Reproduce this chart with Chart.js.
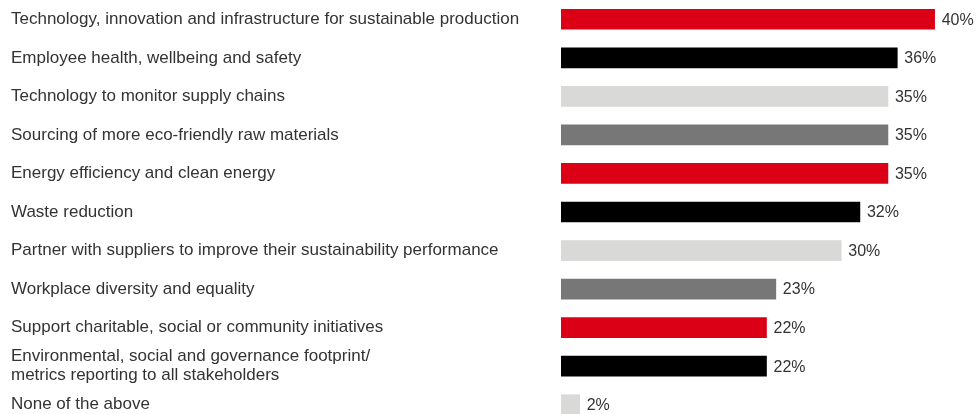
<!DOCTYPE html>
<html>
<head>
<meta charset="utf-8">
<script src="https://cdn.jsdelivr.net/npm/chart.js@4"></script>
<style>
  html, body { margin: 0; padding: 0; background: #fff; overflow: hidden; }
  #wrap { width: 977px; height: 424px; }
</style>
</head>
<body>
<div id="wrap"><canvas id="priorities" width="977" height="424"></canvas></div>
<script>
const categories = [
  "Technology, innovation and infrastructure for sustainable production",
  "Employee health, wellbeing and safety",
  "Technology to monitor supply chains",
  "Sourcing of more eco-friendly raw materials",
  "Energy efficiency and clean energy",
  "Waste reduction",
  "Partner with suppliers to improve their sustainability performance",
  "Workplace diversity and equality",
  "Support charitable, social or community initiatives",
  ["Environmental, social and governance footprint/", "metrics reporting to all stakeholders"],
  "None of the above"
];
const shares = [40, 36, 35, 35, 35, 32, 30, 23, 22, 22, 2];

// red, black, light grey, dark grey repeating down the list
const palette = ["#dc0016", "#000000", "#d9d9d7", "#777777"];
const barColors = shares.map((v, i) => palette[i % palette.length]);

const textColor = "#333333";
const fontFamily = "'Liberation Sans', Arial, sans-serif";

// percentage printed just past the end of each bar
const valueLabels = {
  id: "valueLabels",
  afterDatasetsDraw(chart) {
    const ctx = chart.ctx;
    const meta = chart.getDatasetMeta(0);
    ctx.save();
    ctx.font = "16px " + fontFamily;
    ctx.fillStyle = textColor;
    ctx.textAlign = "left";
    ctx.textBaseline = "middle";
    meta.data.forEach((bar, i) => {
      ctx.fillText(shares[i] + "%", bar.x + 7, bar.y + 1);
    });
    ctx.restore();
  }
};

new Chart(document.getElementById("priorities"), {
  type: "bar",
  data: {
    labels: categories,
    datasets: [{
      data: shares,
      backgroundColor: barColors,
      barThickness: 20,
      borderWidth: 0
    }]
  },
  options: {
    indexAxis: "y",
    responsive: false,
    animation: false,
    layout: { padding: { left: 11, right: 5, top: 0, bottom: 0 } },
    plugins: {
      legend: { display: false },
      tooltip: { enabled: false }
    },
    scales: {
      x: {
        display: false,
        min: 0,
        max: 44
      },
      y: {
        grid: { display: false },
        border: { display: false },
        afterFit(scale) {
          // fixed label column, rows run edge to edge
          scale.width = 550;
          scale.paddingTop = 0;
          scale.paddingBottom = 0;
        },
        ticks: {
          autoSkip: false,
          crossAlign: "far",
          color: textColor,
          font: { family: fontFamily, size: 17, lineHeight: 1.12 },
          padding: 0
        }
      }
    }
  },
  plugins: [valueLabels]
});
</script>
</body>
</html>
